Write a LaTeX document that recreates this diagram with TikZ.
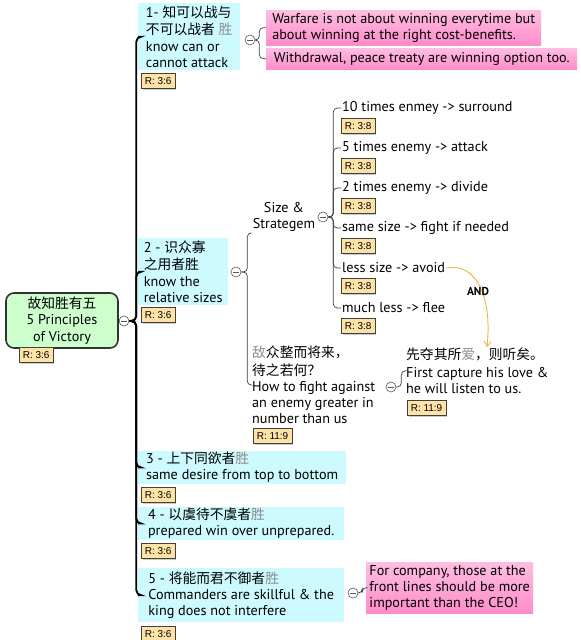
\documentclass[tikz,border=0pt]{standalone}
\usepackage{fontspec}
\setmainfont{PT Sans}
\newfontfamily\cjk{Noto Sans CJK SC}[Scale=0.97]
\newfontfamily\tagf{Liberation Sans}
\usetikzlibrary{shadows,arrows.meta}
\definecolor{cyanc}{RGB}{205,250,255}
\definecolor{pinkt}{RGB}{255,190,225}
\definecolor{pinkb}{RGB}{255,140,200}
\definecolor{greenc}{RGB}{204,255,204}
\definecolor{tagc}{RGB}{255,226,165}
\definecolor{arrc}{RGB}{240,180,70}
\newcommand\zh[1]{{\cjk #1}}
\newcommand\zg[1]{{\cjk\color{black!45}#1}}
\newcommand\bodysz{\fontsize{14.2}{16.2}\selectfont}
\tikzset{
  every node/.style={font=\bodysz},
  box/.style={anchor=north west, align=left, inner xsep=2pt, inner ysep=1pt},
  cyanbox/.style={box, fill=cyanc},
  pinkbox/.style={box, top color=pinkt, bottom color=pinkb},
  plain/.style={anchor=north west, align=left, inner sep=1pt},
  leaf/.style={anchor=west, inner sep=1pt},
  tag/.style={anchor=north west, draw=black!75, fill=tagc, line width=0.6pt,
    font=\tagf\fontsize{10}{10}\selectfont, inner xsep=3.5pt, inner ysep=2pt,
    minimum height=15pt,
    drop shadow={shadow xshift=1.5pt, shadow yshift=-1.5pt, fill=black!40}},
  root/.style={draw=black!80, line width=1.6pt, rounded corners=8pt, fill=greenc,
    minimum width=112pt, minimum height=55pt, align=center, inner sep=1pt},
  cc/.style={circle, draw=black!65, fill=white, minimum size=10pt, inner sep=0pt, line width=0.6pt,
    path picture={\draw[line width=0.8pt] ([xshift=-2.6pt]path picture bounding box.center) -- ([xshift=2.6pt]path picture bounding box.center);}},
  trunk/.style={draw=black, line width=1.8pt, rounded corners=5pt},
  sub/.style={draw=black!75, line width=0.7pt, rounded corners=4pt},
  andarrow/.style={draw=arrc, line width=0.9pt, -{Straight Barb[length=5pt,width=7pt]}},
}
\begin{document}
\begin{tikzpicture}[x=1pt,y=-1pt]
\useasboundingbox[fill=white] (0,0) rectangle (581,640);

% root
\node[root] (root) at (62,320.5) {\zh{故知胜有五}\\5 Principles\\of Victory};
\node[tag] (roott) at (19,347) {R: 3:6};
\node[cc] (rc) at (124,321) {};
\draw[trunk, rounded corners=2pt] (root.east) -- (rc.west);

% first-level children
\node[cyanbox, minimum width=102pt, minimum height=67pt] (c1) at (138,3)
  {1- \zh{知可以战与}\\[1pt]\zh{不可以战者} \zg{胜}\\know can or\\cannot attack};
\node[tag] (c1t) at (141,73) {R: 3:6};

\node[cyanbox, minimum width=90pt, minimum height=67pt] (c2) at (138,238)
  {2 - \zh{识众寡}\\[1pt]\zh{之用者胜}\\know the\\relative sizes};
\node[tag] (c2t) at (141,307) {R: 3:6};

\node[cyanbox, minimum width=208pt, minimum height=31pt] (c3) at (138,451)
  {3 - \zh{上下同欲者}\zg{胜}\\same desire from top to bottom};
\node[tag] (c3t) at (141,487) {R: 3:6};

\node[cyanbox, minimum width=206pt, minimum height=32pt] (c4) at (138,507)
  {4 - \zh{以虞待不虞者}\zg{胜}\\prepared win over unprepared.};
\node[tag] (c4t) at (141,543) {R: 3:6};

\node[cyanbox, minimum width=206pt, minimum height=54pt] (c5) at (138,568)
  {5 - \zh{将能而君不御者}\zg{胜}\\Commanders are skillful \& the\\king does not interfere};
\node[tag] (c5t) at (141,626) {R: 3:6};

\draw[trunk] (rc.east) -- ++(7,0) |- (c1.west);
\draw[trunk] (rc.east) -- ++(7,0) |- (c2.west);
\draw[trunk] (rc.east) -- ++(7,0) |- (c3.west);
\draw[trunk] (rc.east) -- ++(7,0) |- (c4.west);
\draw[trunk] (rc.east) -- ++(7,0) |- (c5.west);

% child 1 notes
\node[cc] (c1c) at (250,40) {};
\node[pinkbox, minimum width=275pt, minimum height=35pt] (p1) at (266,10)
  {Warfare is not about winning everytime but\\about winning at the right cost-benefits.};
\node[pinkbox, minimum width=311pt, minimum height=21pt] (p2) at (266,48)
  {Withdrawal, peace treaty are winning option too.};
\draw[sub] (c1c.east) -- ++(4,0) |- (p1.west);
\draw[sub] (c1c.east) -- ++(4,0) |- (p2.west);

% child 2 subtree
\node[cc] (c2c) at (236,272) {};
\node[align=center, inner sep=1pt] (sz) at (284,217) {Size \&\\Strategem};
\node[plain] (fight) at (251,345)
  {\zg{敌}\zh{众整而将来，}\\[1pt]\zh{待之若何？}\\How to fight against\\an enemy greater in\\number than us};
\node[tag] (fightt) at (253,428) {R: 11:9};
\draw[sub] (c2c.east) -- ++(6,0) |- (sz.south west);
\draw[sub] (c2c.east) -- ++(6,0) |- (fight.west);

\node[cc] (szc) at (323,217) {};
\node[leaf] (s1) at (341,108) {10 times enmey -> surround};
\node[tag] (s1t) at (341,118) {R: 3:8};
\node[leaf] (s2) at (341,148) {5 times enemy -> attack};
\node[tag] (s2t) at (341,158) {R: 3:8};
\node[leaf] (s3) at (341,188) {2 times enemy -> divide};
\node[tag] (s3t) at (341,198) {R: 3:8};
\node[leaf] (s4) at (341,228) {same size -> fight if needed};
\node[tag] (s4t) at (341,238) {R: 3:8};
\node[leaf] (s5) at (341,268) {less size -> avoid};
\node[tag] (s5t) at (341,278) {R: 3:8};
\node[leaf] (s6) at (341,308) {much less -> flee};
\node[tag] (s6t) at (341,318) {R: 3:8};
\foreach \s in {s1,s2,s3,s4,s5,s6}
  \draw[sub] (szc.east) -- ++(5,0) |- (\s.west);

\node[cc] (fc) at (391,387) {};
\node[plain] (cap) at (405,347)
  {\zh{先夺其所}\zg{爱}\zh{，则听矣。}\\[1pt]First capture his love \&\\he will listen to us.};
\node[tag] (capt) at (407,400) {R: 11:9};
\draw[sub] (fc.east) -- ++(5,0) |- (cap.west);

% AND relation
\draw[andarrow] (s5.east) .. controls (478,262) and (492,300) .. (cap.north -| 487,0);
\node[font=\bfseries\fontsize{11.5}{13}\selectfont, inner sep=1pt] (andl) at (478,291) {AND};

% child 5 note
\node[cc] (c5c) at (353,593) {};
\node[pinkbox, minimum width=167pt, minimum height=51pt] (p5) at (366,562)
  {For company, those at the\\front lines should be more\\important than the CEO!};
\draw[sub] (c5c.east) -- ++(4,0) |- (p5.west);
\end{tikzpicture}
\end{document}
